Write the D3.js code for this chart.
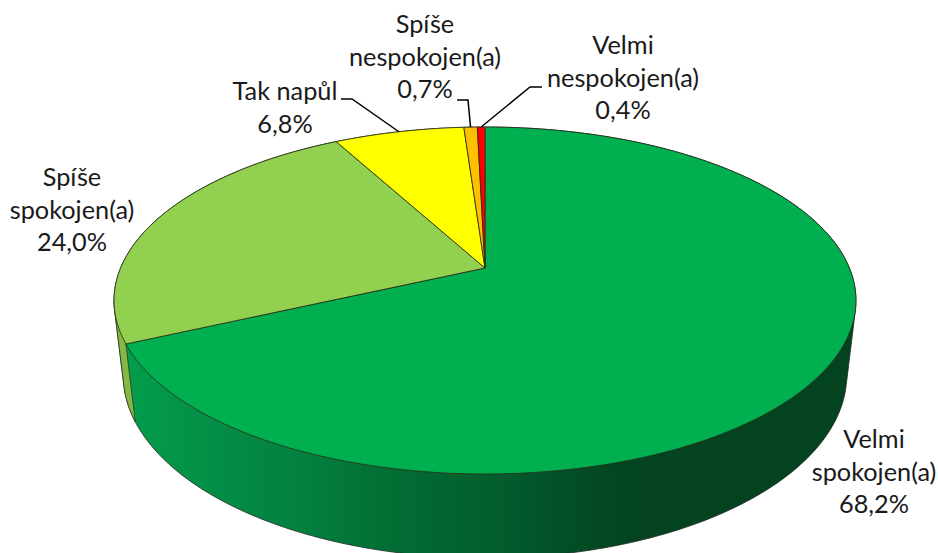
<!DOCTYPE html>
<html>
<head>
<meta charset="utf-8">
<script src="https://cdn.jsdelivr.net/npm/d3@7"></script>
<style>
html, body { margin: 0; padding: 0; background: #fff; overflow: hidden; }
text { font-family: Lato, "Open Sans", sans-serif; font-size: 25.3px; fill: #1a1a1a; text-anchor: middle; }
</style>
</head>
<body>
<div id="chart"></div>
<script>
var categories = ["Velmi spokojen(a)", "Spíše spokojen(a)", "Tak napůl", "Spíše nespokojen(a)", "Velmi nespokojen(a)"];
var values = [68.2, 24.0, 6.8, 0.7, 0.4];
var topColors = ["#00B050", "#92D050", "#FFFF00", "#FFC000", "#FF0000"];

// label placement: centre x, first baseline, and the elbow of the leader line (if any)
var labelX = [874, 72, 285, 425, 623];
var labelY = [448, 186, 100, 33, 54];
var elbowFrom = [null, null, [341, 99], [457, 100], [542, 87]];
var elbowTo = [null, null, [352, 99], [468, 100], [530, 87]];
var lineHeight = 32.6;

// wall shading left to right
var shadeX = [130, 300, 400, 500, 590, 640, 860];
var shadeColor = ["#049c4c", "#03803f", "#026c33", "#025c2c", "#034a24", "#03431f", "#03431f"];

var width = 938, height = 553;

// perspective of the tilted disc, fitted by eye to the reference
var apexX = 485, apexY = 268;
var radiusX = 364.4, radiusY = 167.4, tilt = 0.1873;
var depth = 75.5, depthShrink = 0.0247;

function project(angle, h) {
	var u = Math.sin(angle), v = -Math.cos(angle);
	var w = 1 - tilt * v + depthShrink * h;
	return [apexX + radiusX * u / w, apexY + (radiusY * v + depth * h) / w];
}

var deg = Math.PI / 180;
var line = d3.line();

var svg = d3.select("#chart")
	.append("svg")
	.attr("width", width)
	.attr("height", height)
	.style("display", "block");

var slices = d3.pie().sort(null).value(function(d) { return d; })(values);

var gradient = svg.append("defs").append("linearGradient")
	.attr("id", "wall")
	.attr("gradientUnits", "userSpaceOnUse")
	.attr("x1", shadeX[0])
	.attr("x2", shadeX[shadeX.length - 1])
	.attr("y1", 0)
	.attr("y2", 0);

gradient.selectAll("stop")
	.data(shadeX)
	.enter().append("stop")
	.attr("offset", function(d) { return (d - shadeX[0]) / (shadeX[shadeX.length - 1] - shadeX[0]); })
	.attr("stop-color", function(d, i) { return shadeColor[i]; });

// rim points of both circles between two angles (degrees)
function rimPoints(from, to) {
	var pts = [];
	d3.range(from, to + 1, 1).forEach(function(a) {
		pts.push(project(a * deg, 0));
		pts.push(project(a * deg, 1));
	});
	return pts;
}

// whole cylinder, with the green wall shading and its outline
svg.append("path")
	.attr("d", line(d3.polygonHull(rimPoints(0, 360))) + "Z")
	.style("fill", "url(#wall)")
	.style("stroke", "#1c2a20")
	.style("stroke-width", 0.8);

// light green wall on the left of the edge, up to where the rim turns away
svg.append("path")
	.attr("d", line(d3.polygonHull(rimPoints(slices[0].endAngle / deg, 259))) + "Z")
	.style("fill", "#86B944")
	.style("stroke", "#2a3a20")
	.style("stroke-width", 0.8);

// top face
svg.selectAll(".slice")
	.data(slices)
	.enter().append("path")
	.attr("class", "slice")
	.attr("d", function(d) {
		var pts = [[apexX, apexY]];
		var n = Math.ceil((d.endAngle - d.startAngle) / deg) + 1;
		d3.range(n + 1).forEach(function(i) {
			pts.push(project(d.startAngle + (d.endAngle - d.startAngle) * i / n, 0));
		});
		return line(pts) + "Z";
	})
	.style("fill", function(d, i) { return topColors[i]; })
	.style("stroke", "#2b2b18")
	.style("stroke-width", 0.8)
	.style("stroke-linejoin", "round");

// leader lines end on the rim at the middle of their slice
slices.forEach(function(d, i) {
	if (!elbowFrom[i]) return;
	svg.append("path")
		.attr("d", line([elbowFrom[i], elbowTo[i], project((d.startAngle + d.endAngle) / 2, 0)]))
		.style("fill", "none")
		.style("stroke", "#000")
		.style("stroke-width", 1.5);
});

// labels
var labels = svg.selectAll(".label")
	.data(categories)
	.enter().append("text")
	.attr("class", "label")
	.attr("y", function(d, i) { return labelY[i]; });

labels.each(function(d, i) {
	var rows = d === "Tak napůl" ? [d] : d.split(" ");
	rows.push(d3.format(".1f")(values[i]).replace(".", ",") + "%");
	d3.select(this).selectAll("tspan")
		.data(rows)
		.enter().append("tspan")
		.attr("x", labelX[i])
		.attr("y", function(r, j) { return labelY[i] + j * lineHeight; })
		.text(function(r) { return r; });
});
</script>
</body>
</html>
